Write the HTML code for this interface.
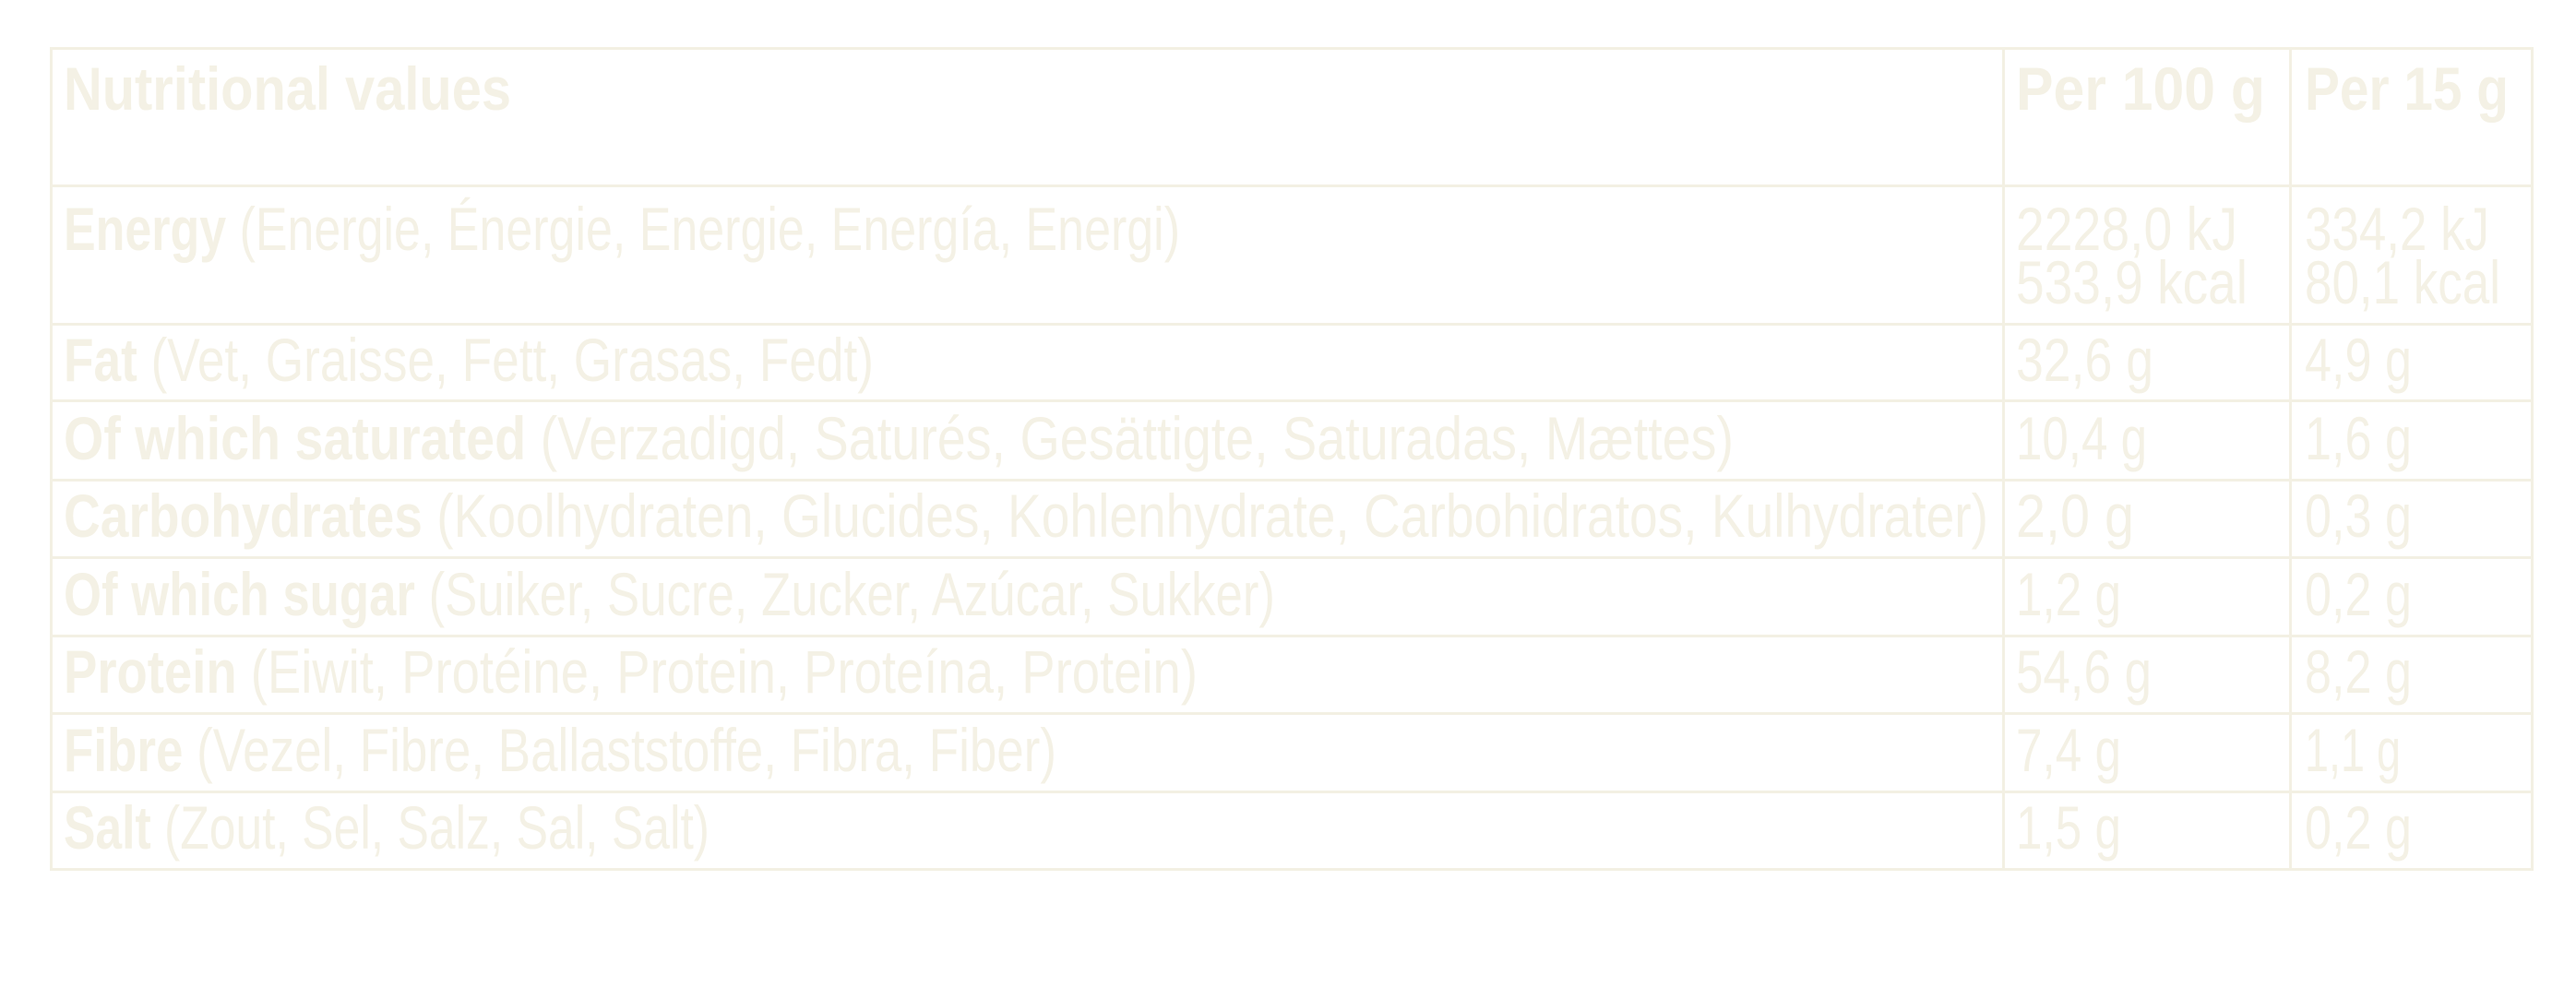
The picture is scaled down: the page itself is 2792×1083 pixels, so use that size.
<!DOCTYPE html>
<html><head><meta charset="utf-8">
<style>
html,body{margin:0;padding:0;background:#fff;}
body{width:2792px;height:1083px;position:relative;overflow:hidden;font-family:"Liberation Sans",sans-serif;color:#f4f1e5;}
.l{position:absolute;background:#f3f0e3;}
.t{position:absolute;white-space:nowrap;font-size:66px;line-height:66px;transform-origin:0 0;}
b{font-weight:700;}
.n{font-weight:400;}
</style></head><body>
<!-- horizontal lines -->
<div class="l" style="left:54px;top:51px;width:2692px;height:3px"></div>
<div class="l" style="left:54px;top:200px;width:2692px;height:3px"></div>
<div class="l" style="left:54px;top:350px;width:2692px;height:3px"></div>
<div class="l" style="left:54px;top:433px;width:2692px;height:3px"></div>
<div class="l" style="left:54px;top:519px;width:2692px;height:3px"></div>
<div class="l" style="left:54px;top:603px;width:2692px;height:3px"></div>
<div class="l" style="left:54px;top:688px;width:2692px;height:3px"></div>
<div class="l" style="left:54px;top:772px;width:2692px;height:3px"></div>
<div class="l" style="left:54px;top:857px;width:2692px;height:3px"></div>
<div class="l" style="left:54px;top:941px;width:2692px;height:3px"></div>
<!-- vertical lines -->
<div class="l" style="left:54px;top:51px;width:3px;height:893px"></div>
<div class="l" style="left:2170px;top:51px;width:3px;height:893px"></div>
<div class="l" style="left:2481px;top:51px;width:3px;height:893px"></div>
<div class="l" style="left:2743px;top:51px;width:3px;height:893px"></div>

<div class="t" data-w="485" style="left:69px;top:63px"><b>Nutritional values</b></div>
<div class="t" data-w="270" style="left:2185px;top:63px"><b>Per 100 g</b></div>
<div class="t" data-w="221" style="left:2498px;top:63px"><b>Per 15 g</b></div>

<div class="t" data-w="1210" style="left:69px;top:215px"><b>Energy</b> <span class="n">(Energie, Énergie, Energie, Energía, Energi)</span></div>
<div class="t" data-w="240" style="left:2185px;top:215px">2228,0 kJ</div>
<div class="t" data-w="251" style="left:2185px;top:273px">533,9 kcal</div>
<div class="t" data-w="200" style="left:2498px;top:215px">334,2 kJ</div>
<div class="t" data-w="212" style="left:2498px;top:273px">80,1 kcal</div>

<div class="t" data-w="878" style="left:69px;top:357px"><b>Fat</b> (Vet, Graisse, Fett, Grasas, Fedt)</div>
<div class="t" data-w="149" style="left:2185px;top:357px">32,6 g</div>
<div class="t" data-w="116" style="left:2498px;top:357px">4,9 g</div>

<div class="t" data-w="1810" style="left:69px;top:442px"><b>Of which saturated</b> (Verzadigd, Saturés, Gesättigte, Saturadas, Mættes)</div>
<div class="t" data-w="142" style="left:2185px;top:442px">10,4 g</div>
<div class="t" data-w="116" style="left:2498px;top:442px">1,6 g</div>

<div class="t" data-w="2086" style="left:69px;top:526px"><b>Carbohydrates</b> (Koolhydraten, Glucides, Kohlenhydrate, Carbohidratos, Kulhydrater)</div>
<div class="t" data-w="128" style="left:2185px;top:526px">2,0 g</div>
<div class="t" data-w="116" style="left:2498px;top:526px">0,3 g</div>

<div class="t" data-w="1313" style="left:69px;top:611px"><b>Of which sugar</b> (Suiker, Sucre, Zucker, Azúcar, Sukker)</div>
<div class="t" data-w="114" style="left:2185px;top:611px">1,2 g</div>
<div class="t" data-w="116" style="left:2498px;top:611px">0,2 g</div>

<div class="t" data-w="1229" style="left:69px;top:695px"><b>Protein</b> (Eiwit, Protéine, Protein, Proteína, Protein)</div>
<div class="t" data-w="147" style="left:2185px;top:695px">54,6 g</div>
<div class="t" data-w="116" style="left:2498px;top:695px">8,2 g</div>

<div class="t" data-w="1076" style="left:69px;top:780px"><b>Fibre</b> (Vezel, Fibre, Ballaststoffe, Fibra, Fiber)</div>
<div class="t" data-w="114" style="left:2185px;top:780px">7,4 g</div>
<div class="t" data-w="104" style="left:2498px;top:780px">1,1 g</div>

<div class="t" data-w="700" style="left:69px;top:864px"><b>Salt</b> (Zout, Sel, Salz, Sal, Salt)</div>
<div class="t" data-w="114" style="left:2185px;top:864px">1,5 g</div>
<div class="t" data-w="116" style="left:2498px;top:864px">0,2 g</div>

<script>
document.querySelectorAll('.t').forEach(function(e){
  var w=parseFloat(e.getAttribute('data-w'));
  var m=e.getBoundingClientRect().width;
  if(m>0) e.style.transform='scaleX('+(w/m)+')';
});
</script>
</body></html>
